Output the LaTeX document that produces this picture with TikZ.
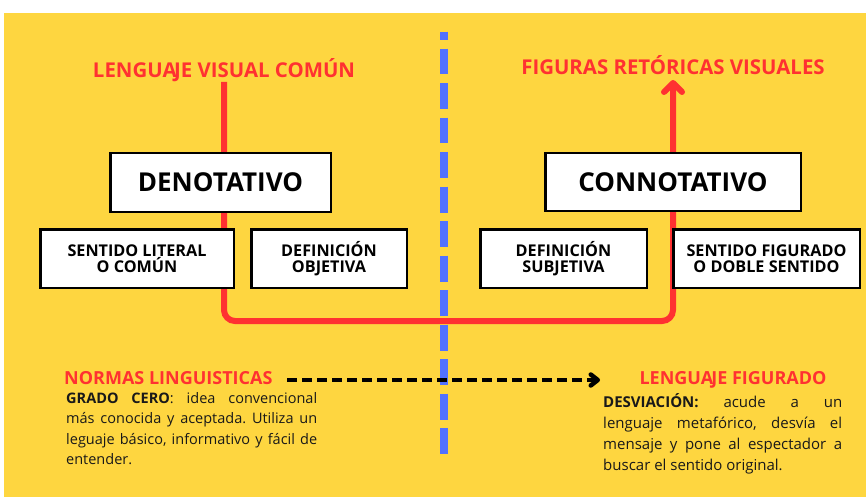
\documentclass[tikz,border=0pt]{standalone}
\usepackage{fontspec}
\setmainfont{Open Sans}
\usetikzlibrary{arrows.meta}
\definecolor{bgyellow}{RGB}{254,214,64}
\definecolor{myred}{RGB}{255,49,49}
\definecolor{myblue}{RGB}{82,113,255}
\tikzset{
  bigbox/.style={draw=black, line width=2.5pt, fill=white, inner sep=0pt,
    font=\bfseries\fontsize{26}{30}\selectfont},
  smallbox/.style={draw=black, line width=2.5pt, fill=white, inner sep=0pt, align=center,
    font=\bfseries\fontsize{16.2}{16.5}\selectfont, minimum height=58.5pt},
  redhead/.style={text=myred, inner sep=0pt, font=\bfseries\fontsize{20.4}{24}\selectfont},
  redsub/.style={text=myred, inner sep=0pt, font=\bfseries\fontsize{18}{22}\selectfont},
  bodytext/.style={inner sep=0pt, align=justify, text=black!90},
  redline/.style={draw=myred, line width=6pt, rounded corners=11pt},
  blueline/.style={draw=myblue, line width=8pt, dash pattern=on 25.8pt off 8.7pt, dash phase=17.5pt},
  blackarrow/.style={draw=black, line width=4.5pt, dash pattern=on 10pt off 5pt,
    -{Straight Barb[length=7pt,width=11pt,round]}}
}
\begin{document}
\frenchspacing
\begin{tikzpicture}[x=1pt,y=-1pt]
\useasboundingbox (0,0) rectangle (866,497);
\fill[bgyellow] (4,13) rectangle (866,497);

% divider
\coordinate (dtop) at (444,31.7);
\coordinate (dbot) at (444,455);
\draw[blueline] (dtop) -- (dbot);

% headings
\node[redhead, anchor=base] (lvc) at (224,77.3) {LENGUA\kern-2.5pt JE VISUAL COMÚN};
\node[redhead, anchor=base] (fig) at (673,75) {FIGURAS RETÓRICAS VISUALES};

% red connector
\coordinate (rtop) at (224,82);
\coordinate (rbl) at (224,321);
\coordinate (rbr) at (673,321);
\coordinate (rtip) at (673,80);
\draw[redline, -{Straight Barb[length=9pt,width=18pt,round]}] (rtop) -- (rbl) -- (rbr) -- (rtip);

% boxes
\node[bigbox, minimum width=220.5pt, minimum height=58.5pt] (deno) at (220.5,182.5) {DENOTATIVO};
\node[bigbox, minimum width=255.5pt, minimum height=57.5pt] (conno) at (673,182) {CONNOTATIVO};
\node[smallbox, minimum width=193.5pt] (lit) at (137,258.5) {SENTIDO LITERAL\\O COMÚN};
\node[smallbox, minimum width=155.5pt] (obj) at (329,258.5) {DEFINICIÓN\\OBJETIVA};
\node[smallbox, minimum width=166.5pt] (subj) at (563.5,258.5) {DEFINICIÓN\\SUBJETIVA};
\node[smallbox, minimum width=186.5pt] (figs) at (766.5,258.5) {SENTIDO FIGURADO\\O DOBLE SENTIDO};

% bottom
\node[redsub, anchor=base west] (normas) at (64,384) {NORMAS LINGUISTICAS};
\node[redsub, anchor=base] (figurado) at (733,384) {LENGUA\kern-2pt JE FIGURADO};
\coordinate (aS) at (287,380);
\coordinate (aE) at (600,380);
\draw[blackarrow] (aS) -- (aE);

\node[bodytext, anchor=base west, text width=251pt,
  font=\fontsize{14.5}{20.6}\selectfont] (grado) at (66,403)
  {\textbf{GRADO CERO}: idea convencional\linebreak más conocida y aceptada. Utiliza un\linebreak leguaje básico, informativo y fácil de\linebreak entender.};
\node[bodytext, anchor=base west, text width=239pt,
  font=\fontsize{15}{21}\selectfont] (desv) at (603,407)
  {\textbf{DESVIACIÓN:} acude a un\linebreak lenguaje metafórico, desvía el\linebreak mensaje y pone al espectador a\linebreak buscar el sentido original.};
\end{tikzpicture}
\end{document}
